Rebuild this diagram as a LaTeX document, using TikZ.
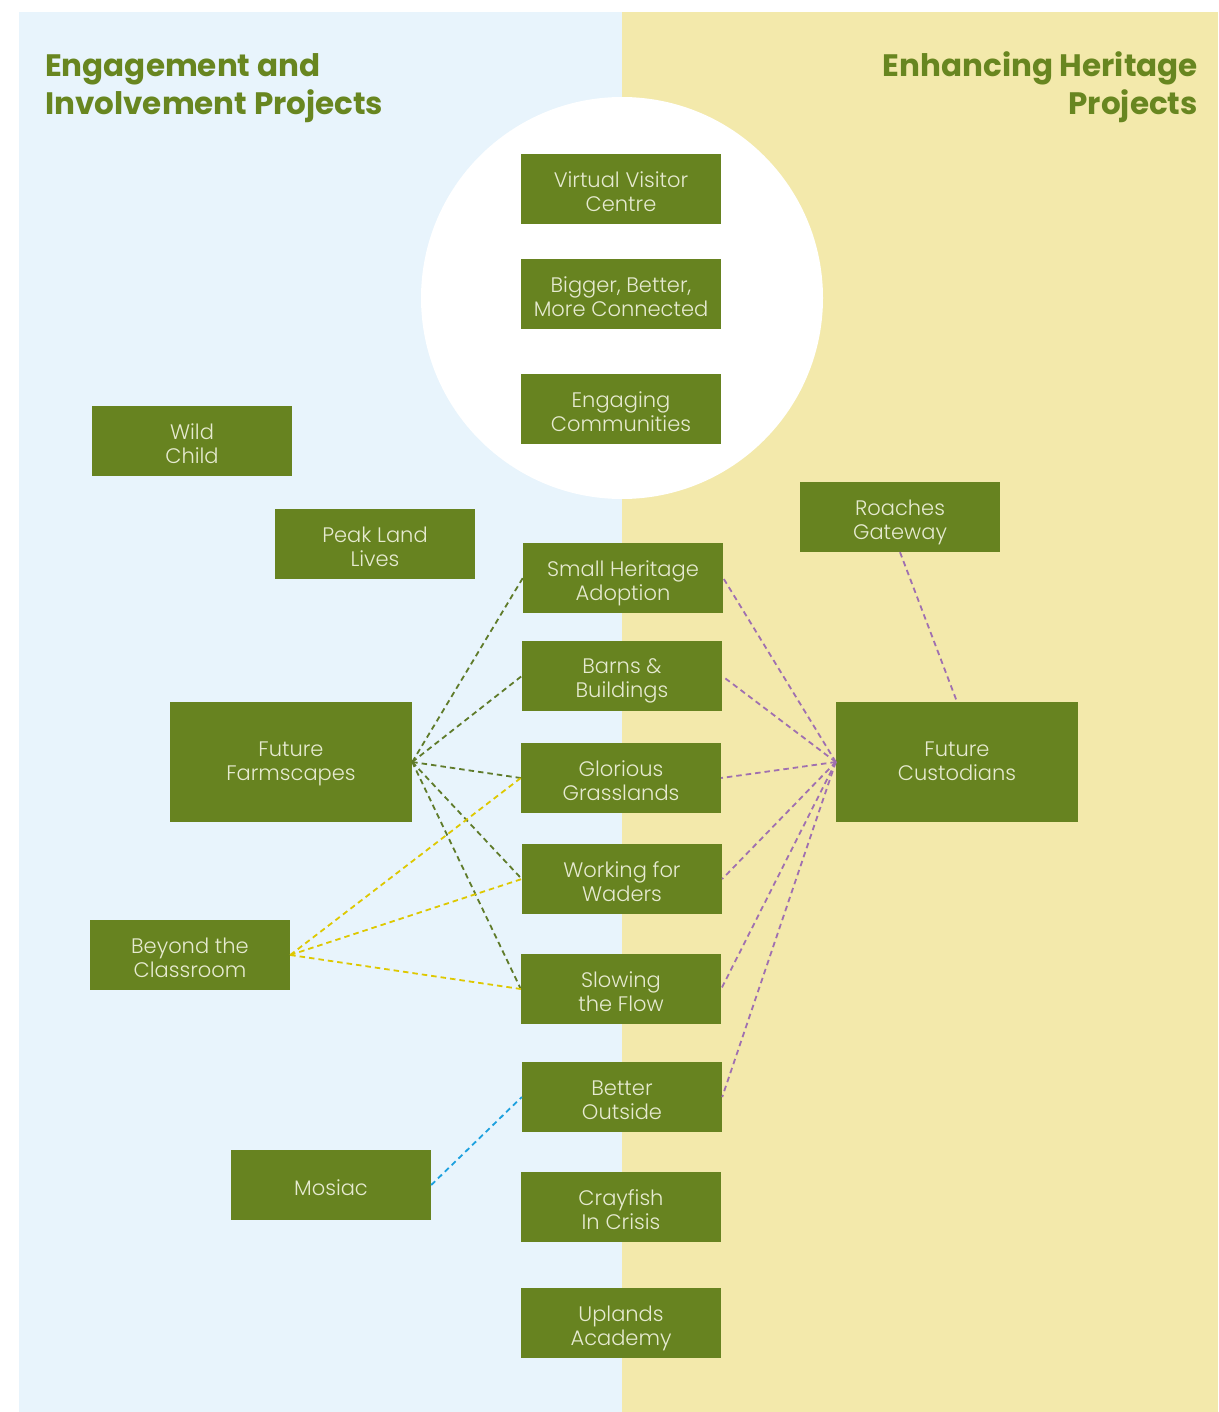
\documentclass[tikz,border=0pt]{standalone}
\usepackage{fontspec}
\setmainfont{Poppins}
\newfontfamily\boxfont{Poppins Light}
\definecolor{bluebg}{HTML}{E8F4FC}
\definecolor{yellowbg}{HTML}{F3E9AB}
\definecolor{boxgreen}{HTML}{678320}
\definecolor{boxtext}{HTML}{E6EAD0}
\definecolor{titlegreen}{HTML}{688620}
\definecolor{lgreen}{HTML}{5F7B2A}
\definecolor{lyellow}{HTML}{DEC800}
\definecolor{lpurple}{HTML}{A070B0}
\definecolor{lblue}{HTML}{1CA0DE}
\newcommand\ftop{\rule{0pt}{25.6pt}}
\newcommand\ftopb{\rule{0pt}{17.6pt}}
\newcommand\fbot{\rule[-5pt]{0pt}{5pt}}
\tikzset{
  box/.style={fill=boxgreen, minimum width=200, minimum height=70, align=center, text=boxtext, inner sep=0pt, font=\boxfont\fontsize{21}{24}\selectfont},
  bigbox/.style={box, minimum width=242, minimum height=120},
  title/.style={text=titlegreen, inner sep=0pt, font=\fontsize{31}{38}\selectfont\bfseries},
  conn/.style={line width=1.8pt, dash pattern=on 5.5pt off 4pt},
  gline/.style={conn, draw=lgreen},
  yline/.style={conn, draw=lyellow},
  pline/.style={conn, draw=lpurple},
  bline/.style={conn, draw=lblue}
}
\begin{document}
\begin{tikzpicture}[x=1pt,y=-1pt]
\useasboundingbox (0,0) rectangle (1218,1412);
\fill[white] (0,0) rectangle (1218,1412);
\fill[bluebg] (19,12) rectangle (622,1412);
\fill[yellowbg] (622,12) rectangle (1218,1412);
\fill[white] (622,298) circle (201);

\node[title, anchor=base west] (t1) at (45,77) {Engagement and};
\node[title, anchor=base west] (t2) at (45,115) {Involvement Projects};
\node[title, anchor=base east] (t3) at (1198,77) {Enhancing Heritage};
\node[title, anchor=base east] (t4) at (1198,115) {Projects};

\node[box] (vvc) at (621,189) {\ftop Virtual Visitor\\Centre\fbot};
\node[box] (bbb) at (621,294) {\ftop Bigger, Better,\\More Connected\fbot};
\node[box] (ec) at (621,409) {\ftop Engaging\\Communities\fbot};
\node[box] (wc) at (192,441) {\ftop Wild\\Child\fbot};
\node[box] (pll) at (375,544) {\ftop Peak Land\\Lives\fbot};
\node[box] (rg) at (900,517) {\ftop Roaches\\Gateway\fbot};
\node[box] (sha) at (623,578) {\ftop Small Heritage\\Adoption\fbot};
\node[box] (bb) at (622,676) {\ftop Barns \&\\Buildings\fbot};
\node[box] (gg) at (621,778) {\ftop Glorious\\Grasslands\fbot};
\node[box] (wfw) at (622,879) {\ftop Working for\\Waders\fbot};
\node[box] (stf) at (621,989) {\ftop Slowing\\the Flow\fbot};
\node[box] (bo) at (622,1097) {\ftop Better\\Outside\fbot};
\node[box] (cic) at (621,1207) {\ftop Crayfish\\In Crisis\fbot};
\node[box] (ua) at (621,1323) {\ftop Uplands\\Academy\fbot};
\node[bigbox] (ff) at (291,762) {\ftopb Future\\Farmscapes\fbot};
\node[bigbox] (fc) at (957,762) {\ftopb Future\\Custodians\fbot};
\node[box] (btc) at (190,955) {\ftop Beyond the\\Classroom\fbot};
\node[box] (mo) at (331,1185) {\ftop Mosiac\fbot};

\foreach \n in {sha,bb,gg,wfw,stf} \draw[gline] (ff.east) -- (\n.west);
\foreach \n in {gg,wfw,stf} \draw[yline] (btc.east) -- (\n.west);
\foreach \n in {sha,bb,gg,wfw,stf,bo} \draw[pline] (fc.west) -- (\n.east);
\draw[pline] (rg.south) -- (fc.north);
\draw[bline] (mo.east) -- (bo.west);
\end{tikzpicture}
\end{document}
